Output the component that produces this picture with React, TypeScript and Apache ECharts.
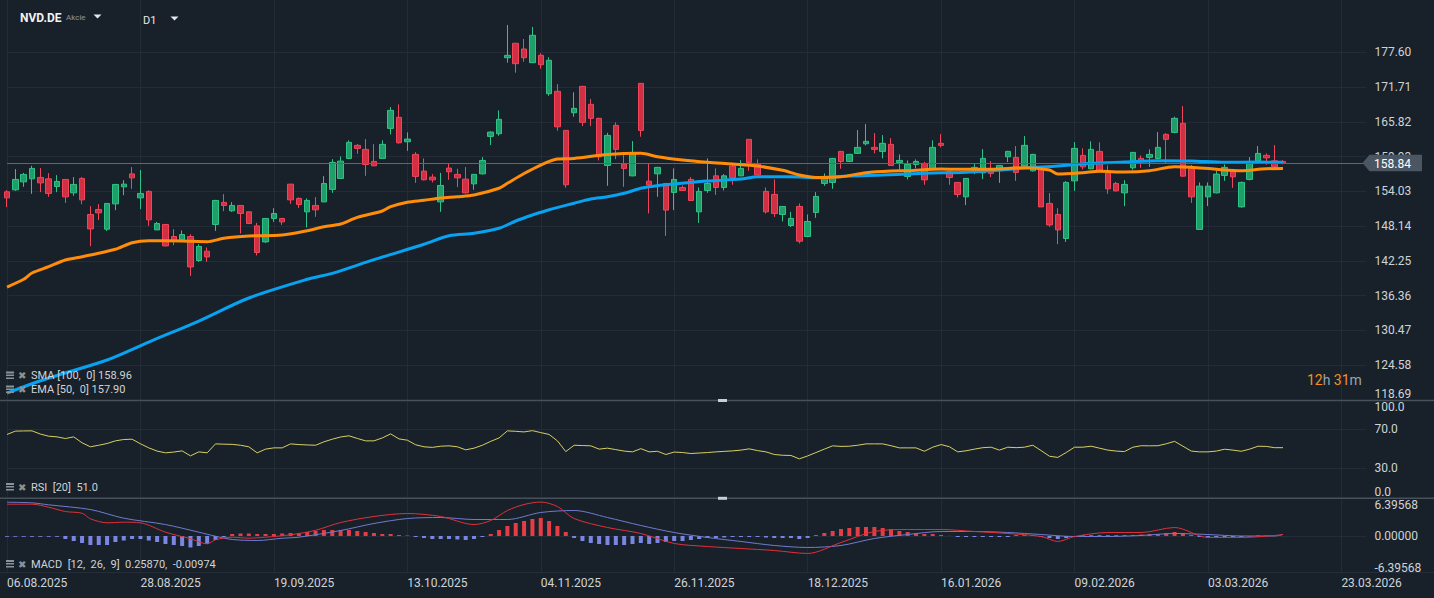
import React, { useEffect, useRef } from 'react';
import * as echarts from 'echarts';

const FONT = 'Roboto, "Noto Sans", sans-serif';
const BG = '#18212a';
const GRID_LINE = '#232c36';
const TEXT = '#cfd3d7';
const ICON = '#8a939c';
const UP_FILL = '#1f9e69';
const UP_LINE = '#2fc487';
const DOWN_FILL = '#d12f42';
const DOWN_LINE = '#f0455a';

const CATEGORY_COUNT = 164;
const LABEL_EVERY = 16;
const dateTicks = ['06.08.2025', '28.08.2025', '19.09.2025', '13.10.2025', '04.11.2025', '26.11.2025', '18.12.2025', '16.01.2026', '09.02.2026', '03.03.2026', '23.03.2026'];
const priceTicks = [118.69, 124.58, 130.47, 136.36, 142.25, 148.14, 154.03, 159.93, 165.82, 171.71, 177.6];
const rsiLabels = [0, 30, 70, 100];
const rsiLines = [30, 70];
const macdLabels = [-6.39568, 0, 6.39568];
const lastClose = 158.84;
const smaLast = 158.96;
const emaLast = 157.9;
const rsiLast = 51.0;
const macdLast = 0.2587;
const macdHistLast = -0.00974;

const opens = [153.96, 154.30, 155.65, 156.16, 156.40, 156.16, 154.87, 156.06, 153.79, 156.23, 150.12, 150.97, 147.63, 151.92, 154.81, 157.00, 152.94, 154.03, 147.51, 148.43, 146.39, 145.82, 146.39, 142.32, 143.90, 148.43, 152.16, 150.74, 151.65, 150.57, 148.19, 145.48, 149.45, 149.45, 155.26, 152.84, 150.57, 151.65, 152.26, 154.37, 156.23, 159.62, 161.83, 161.15, 159.11, 159.62, 164.71, 166.58, 162.44, 160.30, 157.47, 156.45, 152.26, 157.98, 156.91, 156.11, 155.31, 157.01, 163.35, 163.80, 176.68, 179.13, 178.16, 175.84, 177.09, 170.58, 170.99, 164.37, 167.36, 171.83, 168.78, 166.41, 158.43, 165.22, 158.66, 156.67, 172.34, 155.77, 157.01, 155.38, 153.86, 154.70, 156.06, 150.57, 154.19, 156.67, 154.70, 158.32, 156.67, 162.85, 158.66, 154.03, 153.52, 150.12, 148.26, 151.48, 146.39, 150.46, 155.38, 155.55, 160.81, 159.11, 160.47, 162.10, 161.49, 160.81, 162.00, 158.94, 156.57, 158.60, 158.77, 157.76, 162.17, 157.41, 155.55, 153.11, 157.64, 157.18, 157.81, 157.64, 159.89, 159.79, 158.32, 157.52, 157.81, 151.99, 150.12, 146.05, 155.82, 160.13, 157.86, 160.81, 157.18, 155.38, 153.79, 158.03, 159.62, 159.79, 159.62, 163.69, 164.03, 165.56, 157.93, 147.58, 153.11, 153.79, 156.74, 157.35, 151.41, 156.06, 159.21, 160.13, 159.21, 159.11];
const closes = [152.94, 156.06, 156.91, 157.93, 155.48, 153.69, 155.72, 153.11, 155.21, 152.60, 147.68, 150.40, 151.99, 155.21, 155.26, 156.33, 153.69, 149.21, 148.60, 144.80, 145.77, 146.73, 141.24, 144.70, 142.93, 152.50, 151.65, 151.65, 150.29, 148.60, 143.68, 149.45, 150.29, 148.87, 152.60, 151.82, 152.50, 150.91, 155.38, 158.94, 159.16, 162.34, 161.32, 158.60, 158.37, 162.00, 167.76, 162.27, 162.90, 156.57, 156.00, 155.99, 155.04, 157.35, 156.33, 153.79, 156.91, 159.28, 164.08, 166.24, 177.09, 175.67, 176.68, 180.48, 175.50, 176.24, 164.98, 155.15, 168.10, 165.73, 166.41, 159.89, 163.52, 161.15, 157.93, 160.64, 164.37, 155.15, 158.10, 150.86, 156.06, 154.19, 152.50, 154.03, 155.38, 154.70, 156.67, 156.33, 157.93, 158.94, 156.84, 150.57, 150.29, 151.48, 149.45, 145.60, 148.94, 153.18, 156.57, 159.62, 159.11, 160.30, 161.49, 162.51, 161.15, 162.17, 158.43, 159.28, 158.60, 159.11, 155.99, 161.49, 161.83, 156.40, 153.52, 156.23, 158.10, 159.62, 157.08, 158.43, 160.81, 157.25, 161.83, 160.30, 151.41, 148.36, 147.51, 155.55, 161.32, 158.20, 161.15, 157.64, 154.47, 154.13, 155.21, 160.64, 159.28, 160.30, 161.49, 162.85, 166.41, 156.62, 153.11, 154.92, 154.92, 156.96, 158.10, 156.50, 155.55, 158.87, 160.47, 159.72, 158.20, 158.84];
const lows = [151.36, 154.13, 154.81, 153.62, 153.91, 153.11, 153.90, 152.09, 153.28, 151.87, 144.75, 149.16, 147.34, 150.85, 153.40, 154.47, 151.02, 148.19, 147.50, 144.70, 144.92, 145.80, 139.71, 142.09, 142.09, 147.34, 150.68, 150.57, 146.90, 148.50, 143.17, 145.31, 148.87, 148.36, 151.92, 151.24, 147.92, 149.72, 152.20, 153.79, 156.20, 159.50, 160.40, 156.67, 158.30, 159.60, 163.69, 162.10, 160.91, 155.48, 155.89, 155.55, 150.57, 155.99, 154.75, 153.70, 154.30, 156.90, 161.88, 163.46, 175.84, 174.14, 176.00, 175.80, 174.82, 170.24, 164.30, 154.64, 166.68, 165.10, 165.10, 159.28, 154.98, 159.50, 154.81, 156.60, 163.29, 150.29, 153.11, 146.50, 150.86, 154.10, 152.40, 148.70, 153.79, 153.45, 154.19, 155.15, 156.60, 157.52, 156.80, 150.29, 149.72, 148.94, 148.02, 145.21, 146.30, 149.55, 154.98, 154.47, 157.86, 159.00, 160.40, 161.83, 160.47, 159.62, 158.40, 157.76, 156.06, 157.93, 155.15, 157.70, 161.49, 155.15, 153.01, 151.70, 156.96, 156.11, 156.45, 155.48, 158.99, 155.82, 158.30, 157.40, 151.40, 148.02, 145.09, 145.48, 154.13, 157.76, 157.80, 157.60, 153.62, 154.00, 151.53, 157.70, 158.03, 158.20, 159.50, 158.71, 163.90, 156.50, 152.09, 147.50, 151.53, 153.70, 155.82, 154.64, 151.30, 155.90, 158.90, 158.54, 158.10, 158.60];
const highs = [154.25, 157.81, 157.18, 158.37, 157.98, 157.13, 156.79, 156.10, 156.45, 156.45, 151.53, 151.87, 151.99, 155.30, 155.94, 158.15, 157.64, 154.20, 148.87, 148.50, 147.63, 147.41, 146.78, 145.09, 144.53, 152.60, 153.57, 152.21, 151.70, 150.60, 148.70, 149.50, 151.19, 149.50, 155.30, 153.01, 152.84, 153.06, 156.62, 159.50, 159.96, 162.68, 162.05, 162.90, 162.05, 162.68, 168.32, 168.78, 164.03, 160.69, 159.62, 156.96, 157.18, 158.71, 157.86, 158.15, 157.00, 159.84, 164.20, 167.76, 182.23, 179.20, 179.86, 181.89, 177.43, 176.75, 172.22, 164.40, 170.82, 171.90, 169.68, 166.50, 163.96, 165.73, 160.18, 162.56, 172.40, 158.77, 158.20, 155.40, 157.93, 155.04, 156.45, 154.70, 159.62, 157.93, 156.96, 158.77, 159.33, 162.90, 159.45, 154.70, 156.06, 151.50, 150.57, 151.99, 150.12, 153.91, 157.08, 159.70, 160.90, 160.40, 164.42, 165.44, 163.91, 163.57, 163.06, 160.30, 159.28, 159.45, 159.05, 162.68, 163.74, 157.50, 155.60, 156.30, 158.66, 161.20, 159.16, 158.50, 160.90, 161.71, 163.40, 160.40, 158.30, 153.74, 151.19, 155.77, 162.39, 161.32, 162.51, 162.34, 158.43, 155.65, 155.94, 160.70, 160.13, 161.15, 164.08, 163.91, 166.68, 168.49, 158.50, 155.55, 155.55, 157.52, 158.60, 157.50, 155.70, 159.84, 161.71, 160.47, 161.88, 159.33];

// [bar index, value] readings of the moving averages
const emaPoints = [[0, 137.83], [2, 139.14], [3, 140.21], [5, 141.27], [7, 142.41], [9, 142.97], [10, 143.26], [13, 144.22], [15, 145.34], [17, 145.68], [21, 145.63], [24, 145.51], [26, 146.09], [29, 146.47], [33, 146.64], [36, 147.37], [38, 148.05], [40, 148.51], [42, 149.64], [45, 150.71], [46, 151.44], [48, 152.18], [50, 152.52], [52, 152.91], [54, 153.13], [56, 153.42], [59, 154.56], [60, 155.4], [62, 157.06], [64, 158.5], [66, 159.52], [68, 159.61], [72, 160.28], [76, 160.49], [78, 159.91], [81, 159.35], [84, 158.96], [87, 158.67], [90, 158.33], [93, 157.6], [95, 156.81], [97, 156.4], [100, 156.52], [103, 157.2], [106, 157.49], [108, 157.54], [112, 157.83], [114, 157.78], [118, 157.78], [122, 158.05], [125, 157.66], [126, 156.98], [129, 157.2], [131, 157.44], [134, 157.32], [137, 157.54], [140, 158.22], [142, 158.12], [145, 157.78], [148, 157.54], [151, 157.88], [153, 157.9]];
const smaPoints = [[0, 119.87], [5, 122.41], [12, 125.47], [17, 128.51], [23, 132.07], [29, 135.97], [36, 139.14], [39, 140.15], [44, 142.47], [50, 145.07], [53, 146.53], [56, 146.93], [59, 147.78], [61, 149.02], [63, 150.03], [65, 150.93], [68, 152.02], [70, 152.74], [72, 153.13], [74, 153.71], [76, 154.56], [78, 155.0], [80, 155.28], [84, 155.79], [88, 156.13], [90, 156.52], [94, 156.52], [97, 156.35], [101, 156.64], [105, 156.81], [110, 157.1], [115, 157.27], [118, 157.54], [122, 158.0], [126, 158.33], [130, 158.79], [134, 159.01], [138, 159.23], [142, 159.18], [146, 158.96], [150, 159.0], [153, 158.96]];

const rsiValues = [64.6, 68, 68.2, 68.3, 65, 62.8, 62.1, 60.4, 62.1, 56, 51.9, 53.5, 55.3, 58, 59.4, 59.7, 55, 50.8, 47.5, 45.7, 46.5, 47.7, 42.6, 46.7, 45.7, 54.9, 54.6, 54.4, 53.5, 51.9, 45.7, 49.5, 50.8, 50.8, 54.9, 54.2, 53.8, 53.5, 57, 59.7, 62, 63.2, 60.5, 58, 58, 61, 65.2, 60, 58.7, 54, 51.9, 51.3, 52.5, 52.9, 51.9, 48.8, 50.5, 53.5, 57.5, 61, 68.3, 67.8, 67.2, 68.5, 66.5, 64.6, 58, 47, 53.5, 53.2, 52.9, 49.5, 50.5, 49, 47.5, 46.7, 50, 46.7, 47.3, 44, 46.5, 46, 45, 45.5, 46, 46.7, 47.2, 47.7, 48.5, 49.8, 48, 46.7, 44, 43.2, 43, 39.5, 42.5, 46, 49.5, 52.9, 52.3, 52.5, 53.5, 54.9, 54.9, 54.9, 53, 50.8, 50.8, 50.8, 47.3, 51.5, 54.2, 52, 46.7, 47.8, 49.5, 51, 51.5, 48.5, 51.5, 51, 51.5, 53.5, 48, 42.2, 41, 46, 51.5, 51.5, 52.5, 50.5, 48.5, 47.5, 47, 51.5, 53, 52.9, 53, 55, 57.5, 52.5, 47.5, 46.7, 46.7, 47.5, 49.4, 48.5, 47.3, 49.5, 52.5, 52.3, 51, 51];

const macdPoints = [[0, 5.57], [3, 5.57], [5, 5.04], [7, 4.29], [9, 3.99], [10, 3.01], [12, 2.31], [14, 2.42], [16, 2.31], [19, 0.67], [22, -0.49], [24, -1.37], [25, -0.67], [27, -0.21], [29, -0.39], [31, -0.21], [34, 0.21], [37, 1.0], [40, 2.36], [44, 3.42], [48, 3.94], [52, 3.42], [56, 2.01], [58, 2.71], [60, 4.47], [62, 5.52], [64, 5.95], [66, 5.17], [68, 3.06], [72, 1.49], [76, 0.44], [80, -1.31], [84, -1.84], [88, -2.19], [92, -2.54], [96, -3.06], [100, -1.14], [104, 0.79], [108, 1.14], [112, 1.14], [116, 0.79], [120, 0.44], [124, -0.09], [126, -0.96], [128, -0.09], [132, 0.61], [136, 0.61], [140, 1.49], [144, -0.26], [148, -0.26], [152, 0.09], [153, 0.26]];
const signalPoints = [[0, 5.92], [3, 5.81], [5, 5.46], [10, 4.64], [14, 3.12], [19, 2.01], [23, 0.67], [25, -0.04], [27, -0.61], [30, -0.79], [33, -0.39], [35, -0.21], [40, 0.96], [44, 2.19], [48, 3.06], [52, 3.24], [56, 2.89], [60, 2.89], [64, 4.12], [68, 4.47], [72, 3.24], [76, 1.84], [80, 0.61], [84, -0.26], [88, -0.96], [92, -1.66], [96, -2.01], [100, -1.66], [104, -0.44], [108, 0.26], [112, 0.79], [116, 0.79], [120, 0.61], [124, 0.26], [128, -0.09], [132, -0.09], [136, 0.09], [140, 0.44], [144, 0.26], [148, 0], [152, 0], [153, 0.27]];
const macdHist = [-0.14, -0.14, -0.14, -0.14, -0.14, -0.14, -0.14, -0.53, -0.88, -1.23, -1.58, -1.58, -1.58, -1.05, -0.79, -0.53, -0.53, -0.79, -1.05, -1.4, -1.58, -1.75, -2.01, -1.75, -1.4, -0.7, -0.18, 0.35, 0.44, 0.44, 0.35, 0.35, 0.35, 0.44, 0.53, 0.53, 0.7, 0.88, 1.05, 1.05, 1.05, 1.05, 0.88, 0.7, 0.53, 0.35, 0.35, 0.18, 0.09, -0.18, -0.35, -0.53, -0.53, -0.53, -0.61, -0.7, -0.53, -0.18, 0.35, 1.05, 1.75, 2.28, 2.63, 2.98, 3.15, 2.63, 1.75, 0.7, -0.35, -0.88, -1.23, -1.4, -1.58, -1.58, -1.58, -1.4, -1.23, -1.4, -1.23, -1.05, -0.88, -0.88, -0.7, -0.53, -0.35, -0.35, -0.26, -0.18, -0.18, -0.18, -0.18, -0.26, -0.35, -0.35, -0.35, -0.53, -0.35, 0.18, 0.53, 0.88, 1.23, 1.4, 1.58, 1.58, 1.58, 1.4, 1.23, 0.88, 0.7, 0.53, 0.35, 0.35, 0.18, 0.02, -0.18, -0.18, -0.18, -0.18, -0.18, -0.18, -0.18, 0.18, 0.18, 0.18, -0.18, -0.35, -0.53, -0.35, -0.18, 0.18, 0.18, 0.18, 0.18, 0.18, 0.18, 0.18, 0.26, 0.35, 0.35, 0.53, 0.7, 0.53, 0.18, -0.18, -0.26, -0.26, -0.26, -0.18, -0.18, -0.09, 0.09, 0.09, 0.04, -0.01];

const categories = Array.from({ length: CATEGORY_COUNT }, (_, i) => String(i));
const GRID_LEFT = 7;
const GRID_RIGHT = 67.6;

function xAxis(gridIndex: number, showLabels: boolean) {
  return {
    type: 'category',
    gridIndex,
    data: categories,
    boundaryGap: false,
    axisLine: { show: false },
    axisTick: { show: false },
    axisPointer: { show: false },
    axisLabel: showLabels
      ? {
          show: true,
          interval: (i: number) => i % LABEL_EVERY === 0,
          formatter: (v: string) => {
            const i = Number(v);
            return i % LABEL_EVERY === 0 ? dateTicks[i / LABEL_EVERY] ?? '' : '';
          },
          align: 'left',
          color: TEXT,
          fontSize: 12,
          fontFamily: FONT,
          margin: 4,
        }
      : { show: false },
    splitLine: {
      show: true,
      interval: (i: number) => i % LABEL_EVERY === 0,
      lineStyle: { color: GRID_LINE, width: 1 },
    },
  };
}

function yLabel(values: number[], digits: number, padding: number[], maxAlign: string) {
  return {
    customValues: values,
    formatter: (v: number) => Number(v).toFixed(digits),
    color: TEXT,
    fontSize: 12,
    lineHeight: 10,
    fontFamily: FONT,
    margin: 8,
    padding,
    verticalAlignMinLabel: 'bottom',
    verticalAlignMaxLabel: maxAlign,
  };
}

function buildOption() {
  const candleData = opens.map((o, i) => [o, closes[i], lows[i], highs[i]]);
  const histData = macdHist.map((v) => ({
    value: v,
    itemStyle: { color: v >= 0 ? '#e43d45' : '#7b86e4' },
  }));
  const grids = [
    { left: GRID_LEFT, right: GRID_RIGHT, top: 0, height: 400 },
    { left: GRID_LEFT, right: GRID_RIGHT, top: 400, height: 97.3 },
    { left: GRID_LEFT, right: GRID_RIGHT, top: 499.5, height: 73 },
  ].map((g) => ({ ...g, containLabel: false, outerBoundsMode: 'none', show: false }));
  return {
    animation: false,
    backgroundColor: BG,
    grid: grids,
    xAxis: [xAxis(0, false), xAxis(1, false), xAxis(2, true)],
    yAxis: [
      {
        type: 'value', gridIndex: 0, position: 'right', min: 118.69, max: 186.46,
        axisLine: { show: false },
        axisTick: { show: false, customValues: priceTicks },
        axisLabel: yLabel(priceTicks, 2, [0, 0, 1, 0], 'middle'),
        splitLine: { show: true, lineStyle: { color: GRID_LINE } },
      },
      {
        type: 'value', gridIndex: 1, position: 'right', min: 0, max: 100,
        axisLine: { show: false },
        axisTick: { show: false, customValues: rsiLines },
        axisLabel: yLabel(rsiLabels, 1, [2, 0, 0, 0], 'top'),
        splitLine: { show: true, lineStyle: { color: GRID_LINE } },
      },
      {
        type: 'value', gridIndex: 2, position: 'right', min: -6.39568, max: 6.39568,
        axisLine: { show: false },
        axisTick: { show: false, customValues: [0] },
        axisLabel: yLabel(macdLabels, 5, [0, 0, 0, 0], 'top'),
        splitLine: { show: true, lineStyle: { color: GRID_LINE } },
      },
    ],
    series: [
      {
        type: 'candlestick', name: 'NVD.DE', xAxisIndex: 0, yAxisIndex: 0,
        data: candleData, barWidth: 6, clip: false, z: 2,
        itemStyle: { color: UP_FILL, color0: DOWN_FILL, borderColor: UP_LINE, borderColor0: DOWN_LINE, borderWidth: 1 },
        markLine: {
          silent: true, symbol: ['none', 'none'], label: { show: false },
          lineStyle: { color: '#5e6872', width: 1, type: 'solid' },
          data: [{ yAxis: lastClose }],
        },
      },
      {
        type: 'line', name: 'SMA', xAxisIndex: 0, yAxisIndex: 0, data: smaPoints,
        showSymbol: false, connectNulls: true, smooth: 0.3, z: 4,
        lineStyle: { color: '#07a3f2', width: 3 },
      },
      {
        type: 'line', name: 'EMA', xAxisIndex: 0, yAxisIndex: 0, data: emaPoints,
        showSymbol: false, connectNulls: true, smooth: 0.3, z: 5,
        lineStyle: { color: '#ff8d0a', width: 3 },
      },
      {
        type: 'line', name: 'RSI', xAxisIndex: 1, yAxisIndex: 1, data: rsiValues,
        showSymbol: false, z: 3, lineStyle: { color: '#d8cf62', width: 1 },
      },
      {
        type: 'bar', name: 'Hist', xAxisIndex: 2, yAxisIndex: 2, data: histData, barWidth: 4, z: 2,
      },
      {
        type: 'line', name: 'Signal', xAxisIndex: 2, yAxisIndex: 2, data: signalPoints,
        showSymbol: false, connectNulls: true, smooth: 0.3, z: 3, lineStyle: { color: '#6f7bd0', width: 1 },
      },
      {
        type: 'line', name: 'MACD', xAxisIndex: 2, yAxisIndex: 2, data: macdPoints,
        showSymbol: false, connectNulls: true, smooth: 0.3, z: 4, lineStyle: { color: '#e0303a', width: 1 },
      },
    ],
  };
}

function text(x: number, y: number, t: string, size: number, fill: string, extra: any = {}) {
  return {
    type: 'text', x, y, silent: true, z: 100,
    style: { text: t, fontSize: size, fill, fontFamily: FONT, verticalAlign: 'middle', ...extra },
  };
}

function legendIcons(y: number) {
  return [
    { type: 'rect', z: 100, silent: true, shape: { x: 6, y: y - 4, width: 8, height: 2 }, style: { fill: ICON } },
    { type: 'rect', z: 100, silent: true, shape: { x: 6, y: y - 1, width: 8, height: 1.5 }, style: { fill: ICON } },
    { type: 'rect', z: 100, silent: true, shape: { x: 6, y: y + 2, width: 8, height: 1.5 }, style: { fill: ICON } },
    { type: 'text', x: 18, y, z: 100, silent: true, style: { text: '✖', fontSize: 10, fill: ICON, fontFamily: '"DejaVu Sans"', verticalAlign: 'middle' } },
  ];
}

function buildGraphics(tagY: number) {
  const sep = (y: number) => ({
    type: 'line', z: 90, silent: true,
    shape: { x1: 0, y1: y, x2: 1434, y2: y },
    style: { stroke: '#46515c', lineWidth: 1.5 },
  });
  const handle = (y: number) => ({
    type: 'rect', z: 91, silent: true,
    shape: { x: 718, y: y - 1.5, width: 9, height: 3 },
    style: { fill: '#c9ced3' },
  });
  return [
    sep(400.5), sep(498.3), handle(400.5), handle(498.3),
    { type: 'line', z: 90, silent: true, shape: { x1: 0, y1: 572.5, x2: 1434, y2: 572.5 }, style: { stroke: '#252e38', lineWidth: 1 } },
    text(20, 18, 'NVD.DE', 12, '#f2f2f2', { fontWeight: 'bold' }),
    text(66, 17.5, 'Akcie', 8, '#8d97a1'),
    { type: 'polygon', z: 100, silent: true, shape: { points: [[93.5, 14.5], [101.5, 14.5], [97.5, 18.5]] }, style: { fill: '#e4e6e8' } },
    text(143, 20, 'D1', 11, '#e8e8e8'),
    { type: 'polygon', z: 100, silent: true, shape: { points: [[170.5, 16.5], [178.5, 16.5], [174.5, 20.5]] }, style: { fill: '#e4e6e8' } },
    ...legendIcons(375.5),
    text(31, 375.5, `SMA [100,  0] ${smaLast.toFixed(2)}`, 11, TEXT),
    ...legendIcons(389.5),
    text(31, 389.5, `EMA [50,  0] ${emaLast.toFixed(2)}`, 11, TEXT),
    ...legendIcons(487),
    text(31, 487, `RSI  [20]  ${rsiLast.toFixed(1)}`, 11, TEXT),
    ...legendIcons(564),
    text(31, 564, `MACD  [12,  26,  9]  ${macdLast.toFixed(5)},  ${macdHistLast.toFixed(5)}`, 11, TEXT),
    {
      type: 'text', x: 1307, y: 380, z: 100, silent: true,
      style: {
        text: '{o|12}{g|h} {o|31}{g|m}', verticalAlign: 'middle',
        rich: {
          o: { fill: '#f5921c', fontSize: 14, fontFamily: FONT },
          g: { fill: '#9aa2aa', fontSize: 14, fontFamily: FONT },
        },
      },
    },
    {
      type: 'polygon', z: 100, silent: true,
      shape: { points: [[1362.5, tagY], [1369.5, tagY - 8.3], [1422, tagY - 8.3], [1422, tagY + 8.3], [1369.5, tagY + 8.3]] },
      style: { fill: '#4a5763' },
    },
    text(1374, tagY + 0.5, lastClose.toFixed(2), 12, '#ffffff'),
  ];
}

export default function App() {
  const ref = useRef<HTMLDivElement>(null);
  useEffect(() => {
    document.body.style.margin = '0';
    document.body.style.background = BG;
    const chart = echarts.init(ref.current as HTMLDivElement, null, { renderer: 'svg' });
    chart.setOption(buildOption() as any);
    const tagY = chart.convertToPixel({ yAxisIndex: 0 } as any, lastClose) as unknown as number;
    chart.setOption({ graphic: buildGraphics(Number(tagY)) } as any);
    return () => chart.dispose();
  }, []);
  return <div ref={ref} style={{ width: 1434, height: 598, background: BG }} />;
}
